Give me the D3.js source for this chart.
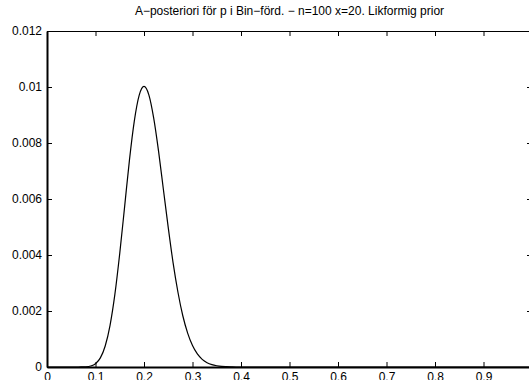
<!DOCTYPE html>
<html>
<head>
<meta charset="utf-8">
<script src="https://cdn.jsdelivr.net/npm/d3@7"></script>
<style>
  body { margin: 0; background: #fff; }
  svg { display: block; font-family: "Liberation Sans", Arial, sans-serif; }
</style>
</head>
<body>
<svg id="chart" width="529" height="380"></svg>
<script>
// posterior values, p step 0.01
var pVals = [0.06, 0.07, 0.08, 0.09, 0.10, 0.11, 0.12, 0.13, 0.14, 0.15,
             0.16, 0.17, 0.18, 0.19, 0.20, 0.21, 0.22, 0.23, 0.24, 0.25,
             0.26, 0.27, 0.28, 0.29, 0.30, 0.31, 0.32, 0.33, 0.34, 0.35,
             0.36, 0.37, 0.38, 0.39];
var postVals = [0, 0.000001, 0.000008, 0.000035, 0.000118, 0.000325, 0.00075, 0.00149, 0.0026, 0.00406,
                0.00572, 0.00739, 0.00878, 0.0097, 0.01002, 0.00972, 0.00889, 0.00771, 0.00634, 0.00498,
                0.00372, 0.00267, 0.00183, 0.00121, 0.000765, 0.000466, 0.000273, 0.000155, 0.000084, 0.000044,
                0.00002, 0.00001, 0.000004, 0];
var xTicks = [0, 0.1, 0.2, 0.3, 0.4, 0.5, 0.6, 0.7, 0.8, 0.9, 1];
var yTicks = [0, 0.002, 0.004, 0.006, 0.008, 0.01, 0.012];
var title = "A\u2212posteriori för p i Bin\u2212förd. \u2212 n=100 x=20. Likformig prior";

function drawChart(){
  var svg = d3.select("#chart");
  var mLeft = 47, mRight = 532, mTop = 31, mBottom = 367;

  var x = d3.scaleLinear().domain([0, 1]).range([mLeft, mRight]);
  var y = d3.scaleLinear().domain([0, 0.012]).range([mBottom, mTop]);

  // full line: zeros before and after the bump
  var pts = [[0, 0]];
  pVals.forEach(function(p, i){ pts.push([p, postVals[i]]); });
  pts.push([1, 0]);

  var fmt = function(d){ return d === 0 ? "0" : String(+d.toFixed(3)); };

  // bottom axis, ticks inward
  var xb = svg.append("g").attr("transform", "translate(0," + mBottom + ")")
    .call(d3.axisBottom(x).tickValues(xTicks).tickSizeInner(-5).tickSizeOuter(0).tickPadding(5).tickFormat(fmt));
  // top axis
  var xt = svg.append("g").attr("transform", "translate(0," + mTop + ")")
    .call(d3.axisTop(x).tickValues(xTicks).tickSizeInner(-5).tickSizeOuter(0).tickFormat(""));
  // left axis
  var yl = svg.append("g").attr("transform", "translate(" + mLeft + ",0)")
    .call(d3.axisLeft(y).tickValues(yTicks).tickSizeInner(-5).tickSizeOuter(0).tickPadding(5).tickFormat(fmt));
  // right axis
  var yr = svg.append("g").attr("transform", "translate(" + mRight + ",0)")
    .call(d3.axisRight(y).tickValues(yTicks).tickSizeInner(-5).tickSizeOuter(0).tickFormat(""));

  [xb, xt, yl, yr].forEach(function(g){
    g.selectAll("text").attr("font-size", 12).attr("fill", "#000")
      .attr("font-family", "'Liberation Sans', Arial, sans-serif");
    g.selectAll("line").attr("stroke", "#000");
    g.select(".domain").attr("stroke", "#000");
  });
  xb.select(".domain").attr("stroke-width", 2);
  yl.select(".domain").attr("stroke-width", 2);

  svg.append("path")
    .datum(pts)
    .attr("fill", "none")
    .attr("stroke", "#000")
    .attr("stroke-width", 1.2)
    .attr("d", d3.line()
      .x(function(d){ return x(d[0]); })
      .y(function(d){ return y(d[1]); })
      .curve(d3.curveMonotoneX));

  svg.append("text")
    .attr("x", (mLeft + mRight) / 2)
    .attr("y", 15)
    .attr("text-anchor", "middle")
    .attr("font-size", 12)
    .text(title);
}

drawChart();
</script>
</body>
</html>
